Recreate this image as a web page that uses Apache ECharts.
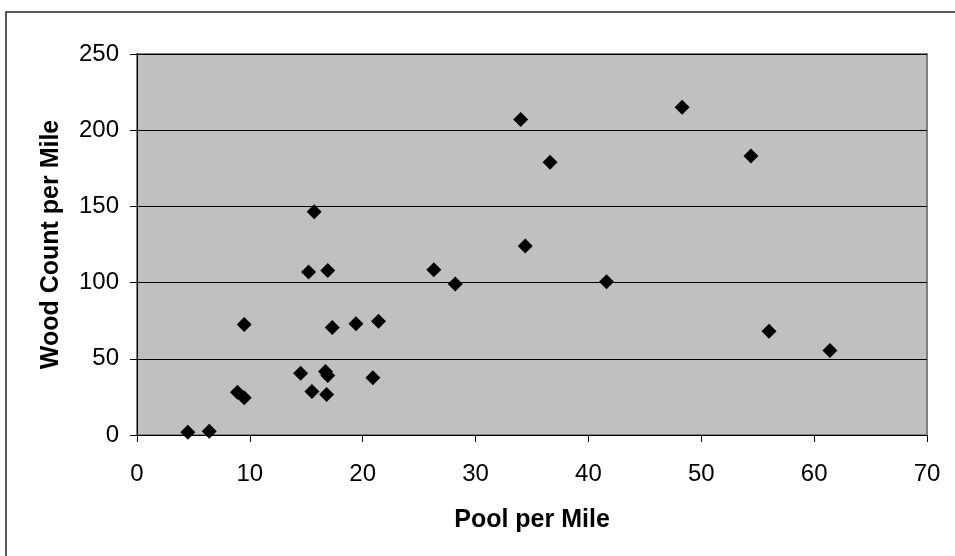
<!DOCTYPE html>
<html>
<head>
<meta charset="utf-8">
<script src="https://cdn.jsdelivr.net/npm/echarts@6/dist/echarts.min.js"></script>
<style>
  html, body { margin: 0; padding: 0; background: #fff; }
  #chart { width: 955px; height: 556px; }
</style>
</head>
<body>
<div id="chart"></div>
<script>
// pool per mile (x) vs wood count per mile (y)
const poolPerMile = [4.5, 6.4, 8.9, 9.5, 9.5, 14.5, 15.2, 15.5, 15.7, 16.7, 16.8, 16.9, 16.9, 17.3,
  19.4, 20.9, 21.4, 26.3, 28.2, 34.0, 34.4, 36.6, 41.6, 48.3, 54.4, 56.0, 61.4];
const woodPerMile = [1.8, 2.4, 28, 24.5, 72.5, 40.6, 107, 28.5, 146.5, 41.6, 26.5, 39, 108, 70.6,
  73, 37.5, 74.6, 108.5, 99, 207, 124, 179, 100.5, 215, 183, 68, 55.5];
const xTicks = [0, 70, 10];
const yTicks = [0, 250, 50];

const font = 'Arial, "Liberation Sans", sans-serif';
const chart = echarts.init(document.getElementById('chart'));

const points = poolPerMile.map(function (x, i) { return [x, woodPerMile[i]]; });

const option = {
  backgroundColor: '#ffffff',
  animation: false,
  graphic: [{
    type: 'rect',
    shape: { x: 6, y: 12, width: 960, height: 560 },
    style: { fill: 'none', stroke: '#222', lineWidth: 1.5 },
    silent: true
  }],
  grid: {
    left: 137,
    top: 54,
    right: 28,
    bottom: 121,
    show: true,
    backgroundColor: '#c0c0c0',
    borderColor: '#808080',
    borderWidth: 2
  },
  xAxis: {
    type: 'value',
    min: xTicks[0],
    max: xTicks[1],
    interval: xTicks[2],
    name: 'Pool per Mile',
    nameLocation: 'middle',
    nameGap: 73,
    nameTextStyle: { fontFamily: font, fontSize: 25, fontWeight: 'bold', color: '#000' },
    axisLine: { onZero: false, lineStyle: { color: '#000', width: 1 } },
    axisTick: { show: true, inside: false, length: 7, lineStyle: { color: '#000' } },
    axisLabel: { fontFamily: font, fontSize: 24, color: '#000', margin: 27 },
    splitLine: { show: false }
  },
  yAxis: {
    type: 'value',
    min: yTicks[0],
    max: yTicks[1],
    interval: yTicks[2],
    name: 'Wood Count per Mile',
    nameLocation: 'middle',
    nameGap: 73,
    nameRotate: 90,
    nameTextStyle: { fontFamily: font, fontSize: 25, fontWeight: 'bold', color: '#000' },
    axisLine: { show: true, lineStyle: { color: '#000', width: 1 } },
    axisTick: { show: true, inside: false, length: 7, lineStyle: { color: '#000' } },
    axisLabel: { fontFamily: font, fontSize: 24, color: '#000', margin: 18 },
    splitLine: { show: true, lineStyle: { color: '#000', width: 1 } }
  },
  series: [{
    type: 'scatter',
    data: points,
    symbol: 'diamond',
    symbolSize: 15,
    itemStyle: { color: '#000', opacity: 1 }
  }]
};

chart.setOption(option);
</script>
</body>
</html>
